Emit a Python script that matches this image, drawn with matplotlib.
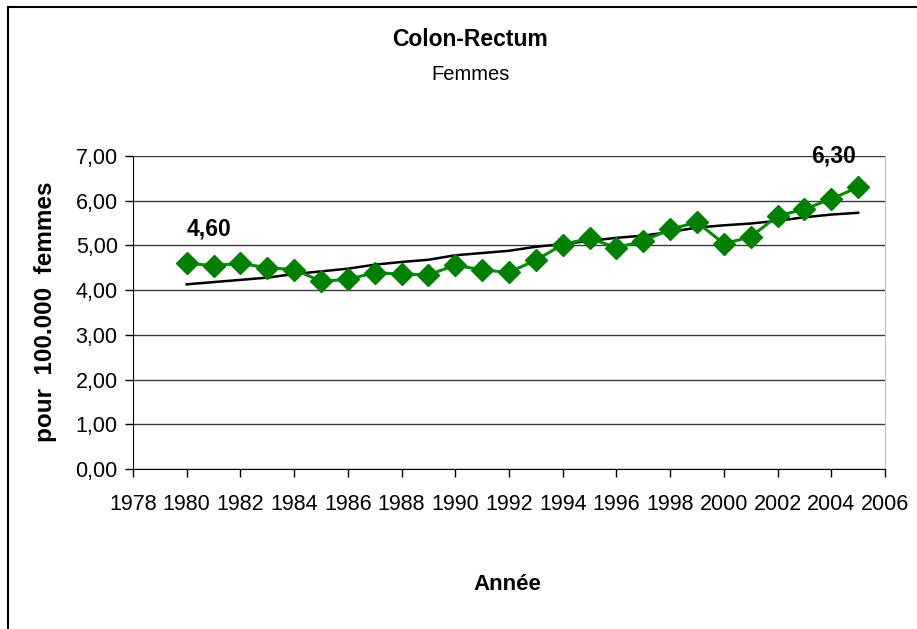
import numpy as np
import matplotlib
matplotlib.use("Agg")
import matplotlib.pyplot as plt
from matplotlib.lines import Line2D

plt.rcParams["font.family"] = ["Liberation Sans", "DejaVu Sans"]

years = list(range(1980, 2006))
taux = [4.60, 4.55, 4.60, 4.50, 4.46, 4.20, 4.24, 4.39, 4.36, 4.34,
        4.56, 4.45, 4.40, 4.67, 5.02, 5.16, 4.95, 5.10, 5.36, 5.52,
        5.04, 5.19, 5.66, 5.81, 6.04, 6.30]
tendance = [4.13, 4.18, 4.23, 4.28, 4.36, 4.42, 4.48, 4.57, 4.63, 4.68,
            4.78, 4.83, 4.88, 4.97, 5.03, 5.10, 5.17, 5.22, 5.30, 5.40,
            5.45, 5.49, 5.55, 5.63, 5.69, 5.73]
x_ticks = list(range(1978, 2007, 2))
y_ticks = [0, 1, 2, 3, 4, 5, 6, 7]


def fmt_fr(v):
    return ("%.2f" % v).replace(".", ",")


fig = plt.figure(figsize=(9.17, 6.29), dpi=100)
ax = fig.add_axes([133 / 917, 1 - 469 / 629, 752 / 917, 313 / 629])

ax.plot(years, tendance, color="black", lw=1.8, zorder=3)
ax.plot(years, taux, color="#0a8c0a", lw=2.2, marker="D", markersize=11,
        markerfacecolor="#008000", markeredgecolor="#008000", zorder=4)

ax.set_xlim(1978, 2006)
ax.set_ylim(0, 7)
ax.set_xticks(x_ticks)
ax.set_yticks(y_ticks)
ax.set_yticklabels([fmt_fr(v) for v in y_ticks])
ax.tick_params(labelsize=15.5, direction="out", length=6, width=1, pad=5)
ax.tick_params(axis="x", pad=12)
ax.grid(axis="y", color="#3a3a3a", lw=1)
ax.set_axisbelow(True)

ax.spines["top"].set_visible(False)
ax.spines["right"].set_color("#c0c0c0")
ax.spines["left"].set_color("black")
ax.spines["bottom"].set_color("black")

# valeurs de debut et de fin (decalages en pixels)
px = 72 / 100
ax.annotate(fmt_fr(taux[0]), (years[0], taux[0]), xytext=(22 * px, 34 * px),
            textcoords="offset points", ha="center", va="center",
            fontsize=16.5, fontweight="bold")
ax.annotate(fmt_fr(taux[-1]), (years[-1], taux[-1]),
            xytext=(-25 * px, 31 * px), textcoords="offset points",
            ha="center", va="center", fontsize=16.5, fontweight="bold")

fig.text(470 / 917, 1 - 40 / 629, "Colon-Rectum", ha="center", va="center",
         fontsize=16.5, fontweight="bold")
fig.text(471 / 917, 1 - 75 / 629, "Femmes", ha="center", va="center",
         fontsize=14.5)
fig.text(46 / 917, 1 - 312 / 629, "pour  100.000  femmes", ha="center",
         va="center", rotation=90, fontsize=17.5, fontweight="bold")
fig.text(507 / 917, 1 - 584 / 629, "Année", ha="center", va="center",
         fontsize=16, fontweight="bold")

# cadre du graphique
fig.add_artist(Line2D([8 / 917, 8 / 917], [0, 1 - 7 / 629], color="black",
                      lw=1.5, transform=fig.transFigure))
fig.add_artist(Line2D([8 / 917, 1], [1 - 7 / 629, 1 - 7 / 629],
                      color="black", lw=1.5, transform=fig.transFigure))

fig.savefig("out.png", dpi=100)
